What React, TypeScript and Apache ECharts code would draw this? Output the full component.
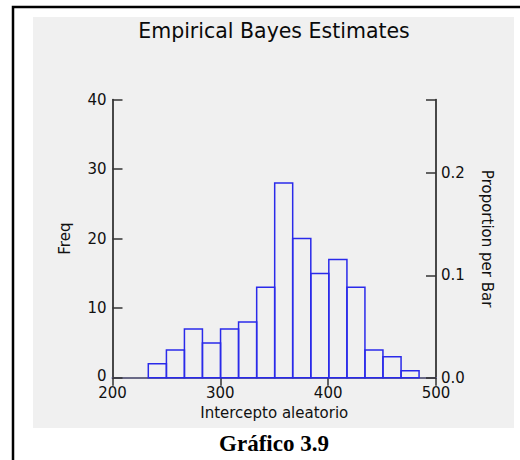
import React, { useEffect, useRef } from "react";
import * as echarts from "echarts";

const binEdges = [233.2, 250, 266.7, 283.4, 300.2, 316.9, 333.7, 350.4, 367.1, 383.9, 400.6, 417.4, 434.1, 450.8, 467.6, 484.3];
const counts = [2, 4, 7, 5, 7, 8, 13, 28, 20, 15, 17, 13, 4, 3, 1];
const xTicks = [200, 300, 400, 500];
const freqTicks = [0, 10, 20, 30, 40];
const propTicks = [0, 0.1, 0.2];

const titleText = "Empirical Bayes Estimates";
const xName = "Intercepto aleatorio";
const yLeftName = "Freq";
const yRightName = "Proportion per Bar";
const caption = "Gráfico 3.9";

export default function App() {
  const ref = useRef<HTMLDivElement>(null);
  useEffect(() => {
    if (!ref.current) return;
    const chart = echarts.init(ref.current, undefined, { renderer: "svg" });
    const total = counts.reduce((a, b) => a + b, 0);
    const data = counts.map((c, i) => [binEdges[i], binEdges[i + 1], c]);
    const font = "DejaVu Sans";
    const labelColor = "#111";
    chart.setOption({
      animation: false,
      backgroundColor: "#ffffff",
      textStyle: { fontFamily: font },
      graphic: [
        {
          type: "rect",
          z: -100,
          silent: true,
          shape: { x: 33, y: 17, width: 481, height: 411 },
          style: { fill: "#f0f0f0" },
        },
        {
          type: "polyline",
          silent: true,
          shape: { points: [[13, 461], [13, 7], [521, 7]] },
          style: { stroke: "#000", lineWidth: 2.5, fill: "none" },
        },
        {
          type: "text",
          x: 274,
          y: 31,
          style: {
            text: titleText,
            font: `20.5px "${font}"`,
            fill: "#0a0a0a",
            textAlign: "center",
            textVerticalAlign: "middle",
          },
        },
        {
          type: "text",
          x: 274,
          y: 443,
          style: {
            text: caption,
            font: `bold 23px "Liberation Serif"`,
            fill: "#000",
            textAlign: "center",
            textVerticalAlign: "middle",
          },
        },
      ],
      grid: { left: 112.5, right: 84, top: 99.5, bottom: 82.3 },
      xAxis: [
        {
          type: "value",
          position: "bottom",
          min: xTicks[0],
          max: xTicks[xTicks.length - 1],
          interval: 100,
          name: xName,
          nameLocation: "middle",
          nameGap: 26,
          nameTextStyle: { fontSize: 15, color: labelColor, fontFamily: font },
          axisLine: { show: true, lineStyle: { color: "#7a7aee", width: 2 } },
          axisTick: { show: false },
          splitLine: { show: false },
          axisLabel: { fontSize: 15, lineHeight: 13, color: labelColor, margin: 9, fontFamily: font },
        },
        {
          type: "value",
          position: "top",
          min: xTicks[0],
          max: xTicks[xTicks.length - 1],
          interval: 100,
          axisLine: { show: true, lineStyle: { color: "#666", width: 1.5 } },
          axisTick: { show: true, inside: true, length: 8, lineStyle: { color: "#333", width: 1.5 } },
          axisLabel: { show: false },
          splitLine: { show: false },
        },
      ],
      yAxis: [
        {
          type: "value",
          position: "left",
          min: freqTicks[0],
          max: freqTicks[freqTicks.length - 1],
          interval: 10,
          name: yLeftName,
          nameLocation: "middle",
          nameGap: 40,
          nameRotate: 90,
          nameTextStyle: { fontSize: 15, color: labelColor, fontFamily: font },
          axisLine: { show: true, lineStyle: { color: "#111", width: 1.5 } },
          axisTick: { show: true, inside: true, length: 10, lineStyle: { color: "#333", width: 1.5 } },
          axisLabel: {
            fontSize: 15,
            lineHeight: 13,
            color: labelColor,
            margin: 6,
            fontFamily: font,
            formatter: (v: number) => (v === 0 ? "{z|0}" : String(v)),
            rich: { z: { fontSize: 15, lineHeight: 13, padding: [0, 0, 3, 0], fontFamily: font, color: labelColor } },
          },
          splitLine: { show: false },
        },
        {
          type: "value",
          position: "right",
          min: 0,
          max: freqTicks[freqTicks.length - 1] / total,
          interval: 0.1,
          name: yRightName,
          nameLocation: "middle",
          nameGap: 43,
          nameRotate: -90,
          nameTextStyle: { fontSize: 15, color: labelColor, fontFamily: font },
          axisLine: { show: true, lineStyle: { color: "#111", width: 1.5 } },
          axisTick: { show: true, inside: true, length: 10, lineStyle: { color: "#333", width: 1.5 } },
          axisLabel: {
            fontSize: 15,
            lineHeight: 13,
            color: labelColor,
            margin: 5,
            fontFamily: font,
            formatter: (v: number) => {
              const hit = propTicks.find((t) => Math.abs(t - v) < 1e-9);
              return hit === undefined ? "" : hit.toFixed(1);
            },
          },
          splitLine: { show: false },
        },
      ],
      series: [
        {
          type: "custom",
          xAxisIndex: 0,
          yAxisIndex: 0,
          encode: { x: [0, 1], y: 2 },
          data,
          renderItem: (params: any, api: any) => {
            const p0 = api.coord([api.value(0), api.value(2)]);
            const p1 = api.coord([api.value(1), 0]);
            return {
              type: "rect",
              shape: { x: p0[0], y: p0[1], width: p1[0] - p0[0], height: p1[1] - p0[1] },
              style: { fill: "none", stroke: "#2a2aea", lineWidth: 1.5 },
            };
          },
        },
      ],
    });
    return () => chart.dispose();
  }, []);
  return (
    <div
      ref={ref}
      style={{ position: "fixed", left: 0, top: 0, width: 520, height: 460 }}
    />
  );
}
